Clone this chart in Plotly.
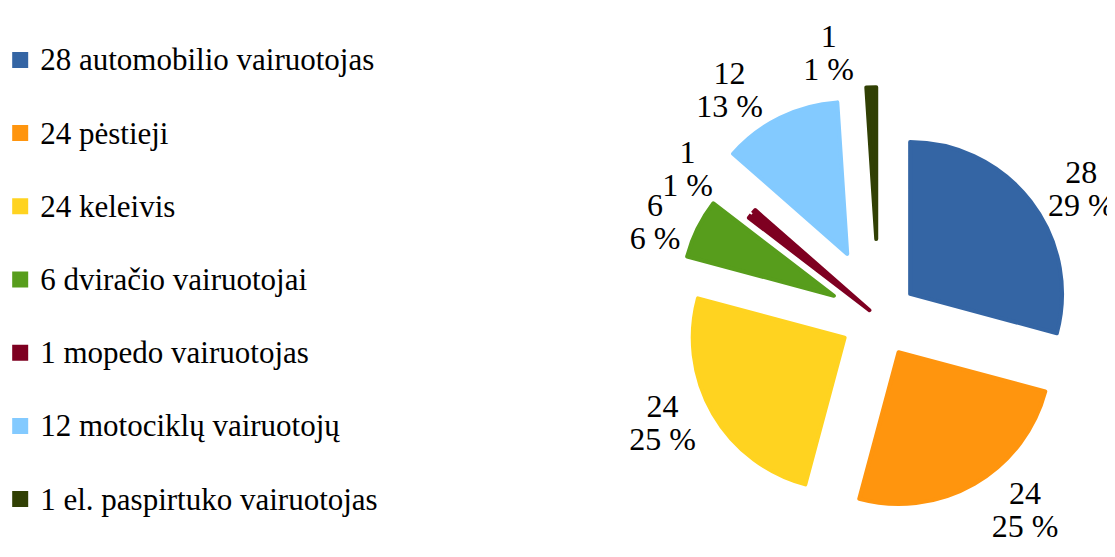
import plotly.graph_objects as go

labels = [
    "28 automobilio vairuotojas",
    "24 pėstieji",
    "24 keleivis",
    "6 dviračio vairuotojai",
    "1 mopedo vairuotojas",
    "12 motociklų vairuotojų",
    "1 el. paspirtuko vairuotojas",
]
values = [28, 24, 24, 6, 1, 12, 1]
pct_labels = ["29 %", "25 %", "25 %", "6 %", "1 %", "13 %", "1 %"]
colors = ["#3465A4", "#FF950E", "#FFD320", "#579D1C", "#7E0021", "#83CAFF", "#314004"]
pulls = [0.26, 0.26, 0.26, 0.33, 0.08, 0.47, 0.52]
# slices whose labels go on a second (invisible) layer so plotly doesn't stack them
second_layer = [False, False, False, False, True, False, True]

SERIF = "Times New Roman, Liberation Serif, serif"
SPAN = "<span style=\"font-size:{}px;color:black\">{}</span>"

# the outer font is white so the label connector lines disappear; spans carry the real text style
label_tpl = SPAN.format(32, "%{value}") + "<br>" + SPAN.format(32, "%{customdata}")
legend_names = [SPAN.format(31, l) + "<br> " for l in labels]

common = dict(
    labels=legend_names,
    values=values,
    customdata=pct_labels,
    texttemplate=label_tpl,
    textfont=dict(family=SERIF, size=25.4, color="white"),
    pull=pulls,
    sort=False,
    direction="clockwise",
    rotation=0,
    domain=dict(x=[0.571, 0.991], y=[0.029, 0.858]),
)

fig = go.Figure()
fig.add_trace(go.Pie(
    textposition=["none" if s else "outside" for s in second_layer],
    marker=dict(colors=colors, line=dict(width=4, color=colors)),
    hoverinfo="value+percent",
    **common,
))
fig.add_trace(go.Pie(
    textposition=["outside" if s else "none" for s in second_layer],
    marker=dict(colors=["rgba(0,0,0,0)"] * len(values), line=dict(width=4, color="rgba(0,0,0,0)")),
    hoverinfo="skip",
    showlegend=False,
    **common,
))

fig.update_layout(
    width=1115,
    height=557,
    margin=dict(l=0, r=0, t=0, b=0, autoexpand=False),
    paper_bgcolor="white",
    plot_bgcolor="white",
    font=dict(family=SERIF, size=27, color="black"),
    showlegend=True,
    legend=dict(
        x=-0.007,
        y=0.95,
        xanchor="left",
        yanchor="top",
        valign="top",
        font=dict(family=SERIF, size=27, color="black"),
        bgcolor="rgba(0,0,0,0)",
    ),
)

fig.write_html("out.html")
